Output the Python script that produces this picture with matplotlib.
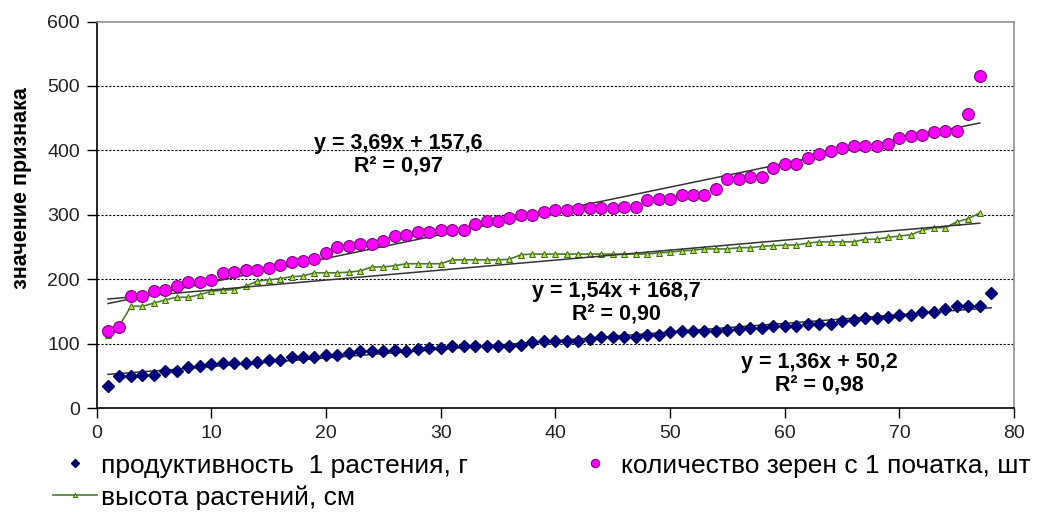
import numpy as np
import matplotlib
matplotlib.use("Agg")
import matplotlib.pyplot as plt

plt.rcParams['font.family'] = ['Liberation Sans', 'DejaVu Sans']

# productivity of one plant, g (x = 1..78)
prod = [34, 49, 49, 52, 52, 58, 58, 64, 66, 69, 70, 70, 70, 71, 74, 74, 79, 79, 79, 83,
        83, 85, 89, 89, 89, 90, 88, 91, 93, 93, 97, 97, 97, 97, 97, 97, 98, 102, 104, 104,
        104, 104, 107, 110, 110, 110, 110, 114, 114, 118, 119, 119, 119, 120, 121, 122, 124, 124, 127, 128,
        128, 130, 131, 131, 135, 136, 140, 140, 141, 145, 145, 149, 149, 153, 158, 158, 159, 179]

# grains per ear, pcs (x = 1..77)
grains = [119, 126, 174, 174, 181, 184, 189, 196, 196, 198, 210, 211, 214, 215, 218, 222, 227, 228, 231, 240,
          250, 252, 254, 254, 259, 267, 269, 273, 273, 276, 276, 277, 285, 291, 291, 295, 300, 300, 304, 307,
          307, 309, 311, 311, 311, 312, 312, 323, 325, 325, 330, 330, 331, 340, 356, 356, 358, 358, 373, 379,
          379, 388, 394, 399, 404, 406, 406, 407, 410, 419, 423, 424, 429, 430, 430, 457, 515]

# plant height, cm (x = 1..77)
height = [113, 128, 158, 158, 163, 168, 172, 172, 176, 181, 183, 184, 189, 197, 199, 201, 204, 205, 210, 210,
          210, 211, 213, 219, 219, 221, 224, 224, 224, 224, 230, 230, 230, 230, 230, 231, 238, 239, 239, 239,
          239, 239, 239, 239, 239, 239, 239, 239, 241, 242, 244, 245, 247, 247, 247, 249, 249, 251, 252, 253,
          253, 256, 258, 258, 258, 258, 262, 262, 265, 267, 269, 276, 280, 280, 289, 294, 303]

labels = ["продуктивность  1 растения, г", "количество зерен с 1 початка, шт", "высота растений, см"]
eq_text = ["y = 1,36x + 50,2\nR² = 0,98", "y = 3,69x + 157,6\nR² = 0,97", "y = 1,54x + 168,7\nR² = 0,90"]
eq_pos = [(63.0, 53), (26.3, 393), (45.3, 163)]

fig = plt.figure(figsize=(10.37, 5.12), dpi=100)
ax = fig.add_axes([0.0931, 0.203, 0.8849, 0.755])

x1 = np.arange(1, len(prod) + 1)
x2 = np.arange(1, len(grains) + 1)
x3 = np.arange(1, len(height) + 1)

for y in [100, 200, 300, 400, 500]:
    ax.axhline(y, color="black", lw=0.8, ls=(0, (2, 1.5)), zorder=0)

# linear trend lines
for xs, ys in [(x1, prod), (x2, grains), (x3, height)]:
    k, b = np.polyfit(xs, ys, 1)
    ax.plot([xs[0], xs[-1]], [k * xs[0] + b, k * xs[-1] + b], color="#333333", lw=1.1, zorder=3)

h1, = ax.plot(x1, prod, ls="none", marker="D", ms=6, color="#000080", mec="#000060", zorder=4)
h3, = ax.plot(x3, height, color="#4d7a2e", lw=1.2, marker="^", ms=4.5,
              mfc="#b8e04a", mec="#3a6b10", mew=0.7, zorder=2)
h2, = ax.plot(x2, grains, ls="none", marker="o", ms=8.5, color="#ff00ff", mec="#7a007a", mew=0.8, zorder=5)

for txt, (tx, ty) in zip(eq_text, eq_pos):
    ax.text(tx, ty, txt, ha="center", va="center", fontsize=15.5, fontweight="bold",
            linespacing=1.1, zorder=6)

ax.set_xlim(0, 80)
ax.set_ylim(0, 600)
ax.set_xticks(range(0, 81, 10))
ax.set_yticks(range(0, 601, 100))
ax.tick_params(labelsize=14, length=7, width=1, direction="out", pad=5, labelcolor="#222222")
for s in ["left", "bottom"]:
    ax.spines[s].set_color("black")
    ax.spines[s].set_linewidth(1.2)
for s in ["top", "right"]:
    ax.spines[s].set_color("#909090")
    ax.spines[s].set_linewidth(1.2)

fig.text(0.021, 1 - 188 / 512, "значение признака", rotation=90, ha="center", va="center",
         fontsize=15.5, fontweight="bold")

fig.legend([h1, h3, h2], [labels[0], labels[2], labels[1]], ncol=2, loc="upper left",
           bbox_to_anchor=(0.051, 0.114), frameon=False, fontsize=19, handlelength=1.67,
           handletextpad=0.15, columnspacing=4.0, labelspacing=0.28, borderpad=0, borderaxespad=0,
           markerscale=0.7)

fig.savefig("out.png", dpi=100)
